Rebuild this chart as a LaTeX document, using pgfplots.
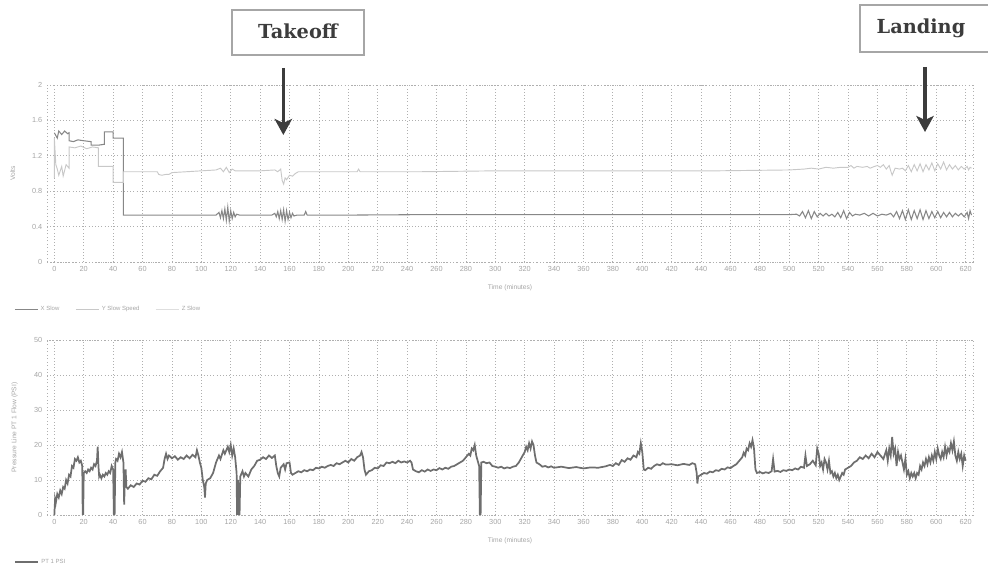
\documentclass[border=0pt]{standalone}
\usepackage{fontspec}
\setmainfont{Liberation Sans}
\newfontfamily\annot{DejaVu Serif}
\usepackage{pgfplots}
\pgfplotsset{compat=1.18}
\usetikzlibrary{arrows.meta}

\definecolor{gridc}{RGB}{175,175,175}
\definecolor{labc}{RGB}{165,165,165}
\definecolor{sone}{RGB}{135,135,135}
\definecolor{stwo}{RGB}{200,200,200}
\definecolor{pline}{RGB}{110,110,110}
\definecolor{ink}{RGB}{60,60,60}

\pgfplotsset{trace/.style={
    scale only axis, width=694.5pt,
    xmin=-5, xmax=625, xtick={0,20,...,620},
    grid=major,
    major grid style={gridc, dotted, line width=0.6pt},
    axis line style={gridc, dotted, line width=0.6pt},
    tick style={draw=none},
    tick label style={font=\fontsize{5.5}{6}\selectfont, text=labc},
    label style={font=\fontsize{5}{6}\selectfont, text=labc},
    /pgf/number format/assume math mode=true,
    xlabel={Time (minutes)},
    xlabel style={at={(axis description cs:0.5,0)}, yshift=-19.5pt, anchor=center},
    legend style={draw=none, fill=none, font=\fontsize{4.5}{5}\selectfont, text=labc,
        at={(axis description cs:-0.04,-0.27)}, anchor=west, legend columns=-1,
        /tikz/every even column/.append style={column sep=10pt}},
    legend cell align=left,
}}

\begin{document}
\begin{tikzpicture}
\useasboundingbox (0,0) rectangle (741pt,429.75pt);

% upper chart: voltages
\begin{axis}[trace, at={(35.25pt,233.25pt)}, anchor=south west,
    height=132.75pt, ymin=0, ymax=2, ytick={0,0.4,...,2},
    yticklabel style={/pgf/number format/fixed, /pgf/number format/precision=1},
    ylabel={Volts},
    ylabel style={at={(axis description cs:-0.037,0.5)}, anchor=center}]
\addplot[sone, line width=0.8pt] coordinates {
(0,1.46)(2,1.40)(3,1.48)(5,1.44)(7,1.48)(9,1.45)(10,1.46)(10,1.37)(13,1.36)(16,1.38)(20,1.37)(25,1.36)
(25,1.32)(30,1.32)(34,1.33)(34,1.47)(40,1.47)(40,1.40)(47,1.40)(47,0.53)(60,0.53)(80,0.53)(100,0.53)
(110,0.53)(112,0.56)(113,0.50)(114,0.58)(115,0.49)(116,0.60)(117,0.47)(118,0.62)(119,0.46)(120,0.58)
(121,0.49)(122,0.56)(123,0.51)(124,0.54)(126,0.53)(140,0.53)(148,0.53)(150,0.55)(151,0.51)(152,0.57)
(153,0.49)(154,0.58)(155,0.48)(156,0.59)(157,0.46)(158,0.58)(159,0.48)(160,0.56)(161,0.50)(162,0.55)
(163,0.52)(165,0.53)(170,0.53)(171,0.57)(172,0.53)(200,0.53)(250,0.535)(300,0.535)(350,0.535)
(400,0.535)(450,0.535)(500,0.535)(505,0.54)(507,0.52)(509,0.57)(511,0.50)(513,0.58)(515,0.49)
(517,0.57)(519,0.51)(521,0.55)(523,0.52)(525,0.55)(527,0.52)(529,0.54)(531,0.51)(533,0.56)(535,0.50)
(537,0.58)(539,0.49)(541,0.56)(543,0.52)(545,0.54)(548,0.53)(551,0.55)(554,0.52)(557,0.55)(560,0.52)
(563,0.54)(566,0.53)(569,0.55)(571,0.51)(573,0.57)(575,0.49)(577,0.58)(579,0.48)(581,0.59)(583,0.48)
(585,0.58)(587,0.49)(589,0.59)(591,0.48)(593,0.58)(595,0.49)(597,0.57)(599,0.50)(601,0.57)(603,0.50)
(605,0.56)(607,0.51)(609,0.56)(611,0.51)(613,0.55)(615,0.52)(617,0.55)(619,0.51)(621,0.56)(622,0.49)
(623,0.58)(624,0.53)
};
\addlegendentry{X Slow}
\addplot[stwo, line width=0.7pt] coordinates {
(0,0.95)(0,1.40)(1,1.10)(2,1.05)(3,0.98)(5,1.08)(6,0.97)(8,1.10)(10,1.06)(10,1.30)(14,1.29)(18,1.31)
(22,1.28)(26,1.30)(30,1.29)(30,1.08)(40,1.08)(40,0.90)(47,0.90)(47,1.02)(60,1.02)(70,1.02)(71,0.99)
(73,0.98)(76,0.99)(78,0.99)(80,1.01)(90,1.02)(100,1.03)(110,1.04)(113,1.06)(115,1.02)(117,1.07)
(119,1.01)(121,1.05)(123,1.03)(125,1.03)(140,1.03)(150,1.04)(152,1.02)(154,1.05)(155,0.92)(156,0.88)
(157,0.95)(158,0.93)(160,0.98)(162,0.97)(164,1.00)(166,1.02)(170,1.02)(200,1.02)(206,1.02)(207,1.05)
(208,1.02)(250,1.02)(300,1.03)(350,1.03)(400,1.03)(450,1.03)(500,1.04)(510,1.05)(515,1.06)(520,1.05)
(525,1.07)(530,1.06)(535,1.07)(540,1.07)(542,1.09)(544,1.06)(546,1.08)(550,1.07)(553,1.08)(555,1.06)
(558,1.08)(560,1.09)(562,1.07)(564,1.10)(566,1.05)(568,1.09)(569,1.03)(570,0.98)(571,1.02)(572,1.06)
(575,1.05)(577,1.06)(579,1.03)(581,1.09)(583,1.02)(585,1.10)(587,1.03)(589,1.11)(591,1.02)(593,1.10)
(595,1.04)(597,1.12)(599,1.03)(601,1.11)(603,1.05)(605,1.13)(607,1.04)(609,1.10)(611,1.05)(613,1.09)
(615,1.04)(617,1.08)(619,1.05)(621,1.08)(622,1.04)(623,1.07)(624,1.06)
};
\addlegendentry{Y Slow Speed}
\addlegendimage{stwo!60, line width=0.7pt}
\addlegendentry{Z Slow}
\end{axis}

% lower chart: pressure
\begin{axis}[trace, at={(35.25pt,43.5pt)}, anchor=south west,
    height=131.25pt, ymin=0, ymax=50, ytick={0,10,...,50},
    ylabel={Pressure Line PT 1 Flow (PSI)},
    ylabel style={at={(axis description cs:-0.035,0.5)}, anchor=center}]
\addplot[pline, line width=1.3pt] coordinates {
(0,0)(0.5,4.5)(1,3.5)(2,6)(3,5)(4,7)(5,6)(6,8)(7,7.5)(8,10)(9,9)(10,11.5)(11,11)(12,14)(13,13.5)
(14,16)(15,15.5)(16,16.5)(17,15)(18,15.5)(19,14)(19.3,0)(19.6,0)(20,12)(21,12.5)(22,12)(23,13)
(24,12.5)(25,13.5)(26,13)(27,14.5)(28,14)(29,15.5)(29.5,19.5)(30,14)(30.5,11)(31,11.5)(32,10.5)
(33,11.5)(34,11)(35,12)(36,11.5)(37,12.5)(38,12)(39,14)(40,13)(40.5,0)(41,0)(41.5,15)(42,16)
(43,15.5)(44,17.5)(45,16.5)(46,18)(47,15)(47.5,3)(48,11)(48.5,13)(49,8)(50,7.5)(52,8.5)(54,8)(56,9)
(58,8.7)(60,9.8)(62,9.5)(64,10.5)(66,10.2)(68,11.5)(70,11.2)(72,12.5)(74,13.5)(75,16)(76,17.5)
(77,16)(78,17)(80,16.2)(82,16.8)(84,15.8)(86,16.5)(88,16)(90,17)(92,16.2)(94,17.2)(96,16.5)(97,18.5)
(98,17)(99,15)(100,13.5)(101,10)(102,8)(102.5,5)(103,9)(104,10)(106,10.5)(108,12)(110,15)(112,17)
(113,16)(115,18.5)(116,17.5)(118,19.5)(119,18)(120,20)(121,17)(122,19)(123,16.5)(124,12)(124.3,0)
(124.6,0)(125,10)(125.5,0)(126,0)(126.5,11)(128,12.5)(129,11)(130,12)(132,11)(134,13)(136,14)
(138,15.5)(140,15.8)(142,16.5)(144,16)(146,17)(148,16.3)(150,17)(151,14)(152,12)(153,11)(154,13.5)
(156,14.5)(157,13)(158,14.8)(160,15)(161,12)(162,11.5)(164,12)(166,12.5)(168,12.2)(170,12.8)
(172,12.5)(174,13)(176,12.8)(178,13.5)(180,13.3)(182,13.8)(184,13.5)(186,14)(188,14.3)(190,14)
(192,14.8)(194,14.5)(196,15)(198,15.5)(200,15)(202,16)(204,15.5)(206,16.5)(208,17)(209,18)(210,16.5)
(211,13)(212,11.5)(214,12.5)(216,12.8)(218,13.5)(220,13.3)(222,14.2)(224,14)(226,15)(228,14.8)
(230,15.2)(232,14.8)(234,15.5)(236,15)(238,15.3)(240,15)(242,15.5)(243,15)(244,13)(246,12.5)
(248,12.2)(250,12.8)(252,12.4)(254,13)(256,12.6)(258,13)(260,12.8)(262,13.4)(264,13)(266,13.5)
(268,13.2)(270,13.8)(272,14)(274,14.5)(276,15)(278,15.5)(280,16.5)(282,17.5)(283,17)(284,19)
(285,18.5)(286,20)(287,17)(288,15.5)(289,14)(289.5,0)(290,0)(290.5,15)(292,15.2)(294,14.8)(296,15)
(298,14)(300,13.8)(302,13.5)(304,13.8)(306,13.3)(308,13.6)(310,13.4)(312,13.8)(314,14)(316,15)
(318,16.5)(320,18)(321,19.5)(322,18.5)(323,20.5)(324,19)(325,21)(326,20)(327,17)(328,15)(330,14.5)
(332,13.8)(334,14)(336,13.6)(338,13.9)(340,13.5)(345,13.8)(350,13.4)(355,13.7)(360,13.3)(365,13.6)
(370,13.5)(375,13.9)(378,14.3)(380,14)(382,14.8)(384,14.3)(386,15.7)(388,15.2)(390,16.2)(392,15.8)
(394,17)(396,16.5)(397,18)(398,17.5)(399,20.5)(400,18)(401,13)(402,12.8)(404,13.5)(406,13.2)(408,14)
(410,14.5)(412,14.2)(414,14.8)(416,14.4)(420,14.5)(424,14.2)(428,14.6)(432,14.3)(434,14.8)(436,14.5)
(437,12)(437.5,9)(438,11)(440,11.5)(442,12)(444,11.8)(446,12.4)(448,12.2)(450,12.8)(452,12.6)
(454,13.2)(456,13)(458,13.6)(460,13.4)(462,14)(464,14.5)(466,15.5)(468,16.5)(469,17.8)(470,17)
(471,19)(472,18.5)(473,20.5)(474,19.5)(475,21.4)(476,19)(477,13)(478,12)(480,12.3)(482,11.9)
(484,12.2)(486,12)(488,12.5)(489,16)(490,12.4)(492,12.6)(494,12.3)(496,12.8)(498,12.6)(500,13)
(502,12.8)(504,13.3)(506,13)(508,13.8)(510,13.5)(511,17)(512,14)(514,14.5)(516,15.5)(518,14.2)
(519,19)(520,17.5)(521,14)(522,15)(523,13)(524,16)(525,15)(526,13)(527,15.5)(528,12)(529,12.5)
(530,11)(531,12)(532,10.5)(533,11.5)(534,10)(535,11)(536,12)(537,11.5)(538,13)(540,13.5)(542,14)
(544,15)(546,15.5)(548,16.5)(550,16)(552,17)(554,16.2)(556,17.5)(558,16.5)(560,18)(562,17)(564,16)
(566,18.5)(567,15.5)(568,19)(569,17)(570,22.3)(571,17.5)(572,19)(573,14)(574,18)(575,16)(576,17)
(577,15)(578,13)(579,16)(580,11.5)(581,12.5)(582,10.5)(583,12)(584,11)(585,12)(586,10.5)(587,12)
(588,11.5)(589,14)(590,13)(591,15)(592,14)(593,16)(594,14.5)(595,16.5)(596,15)(597,17)(598,15.5)
(599,18)(600,16)(601,19)(602,17)(603,16)(604,18)(605,16.5)(606,19.5)(607,17)(608,19)(609,18)
(610,20.5)(611,18.5)(612,21)(613,17)(614,15.5)(615,18)(616,16)(617,17.5)(618,14)(619,17)(620,15.5)
};
\addlegendentry{PT 1 PSI}
\end{axis}

% annotations
\draw[gray!70, line width=0.8pt] (174pt,388.5pt) rectangle (273pt,422.25pt);
\node[text=ink, font=\annot\bfseries\fontsize{14.5}{17}\selectfont] at (223.5pt,406pt) {Takeoff};
\draw[gray!70, line width=0.8pt] (645pt,390.75pt) rectangle (746pt,426pt);
\node[text=ink, font=\annot\bfseries\fontsize{14.5}{17}\selectfont] at (690.75pt,408.5pt) {Landing};
\draw[ink, line width=2.6pt, -{Stealth[length=12pt,width=13pt,inset=3pt]}] (212.5pt,378.75pt) -- (212.5pt,328.5pt);
\draw[ink, line width=2.6pt, -{Stealth[length=12pt,width=13pt,inset=3pt]}] (693.75pt,379.5pt) -- (693.75pt,330.75pt);
\end{tikzpicture}
\end{document}
